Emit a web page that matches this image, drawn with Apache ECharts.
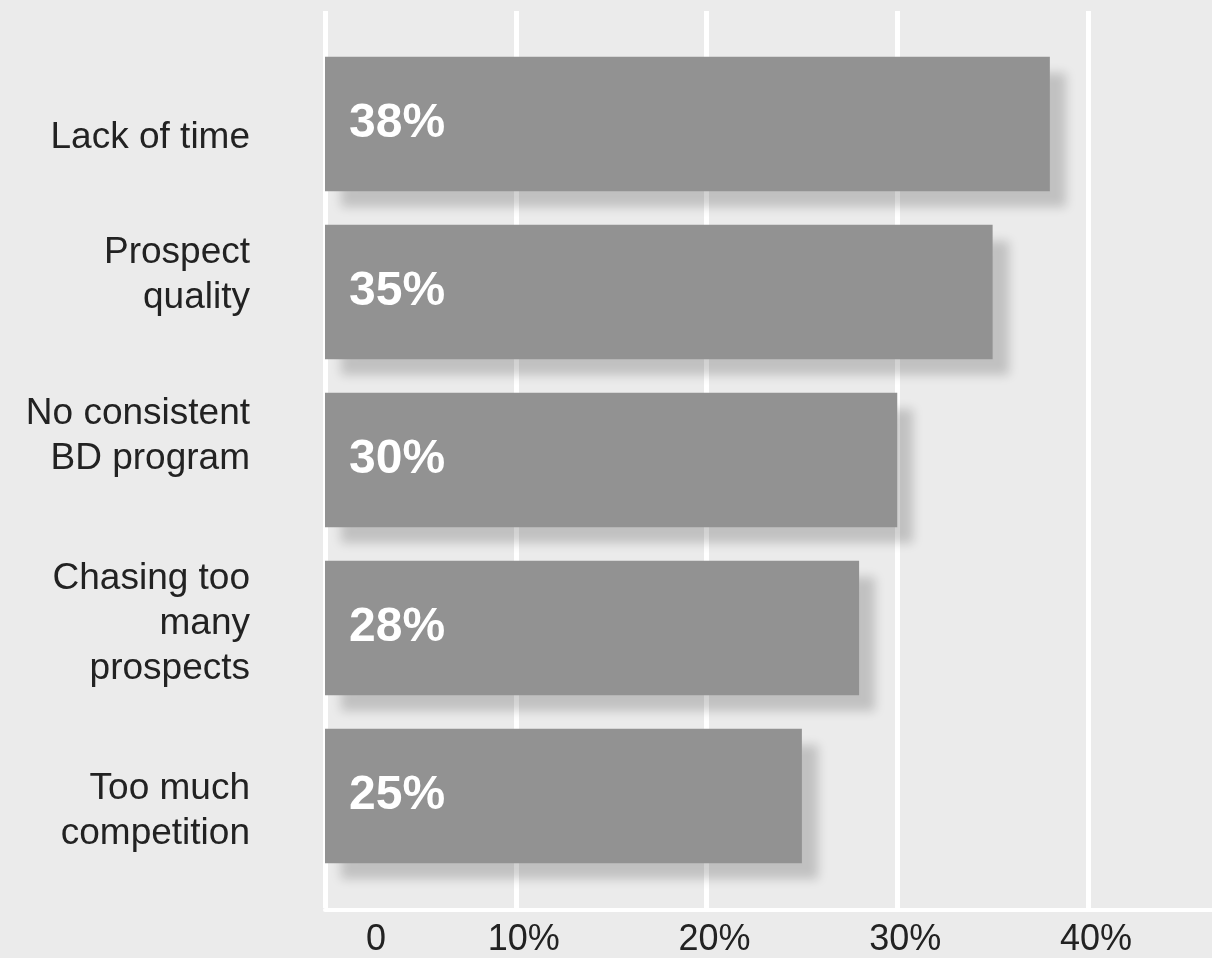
<!DOCTYPE html>
<html>
<head>
<meta charset="utf-8">
<script src="https://cdn.jsdelivr.net/npm/echarts@6/dist/echarts.min.js"></script>
<style>
  html, body { margin: 0; padding: 0; background: #ebebeb; }
  #chart { width: 1212px; height: 958px; }
</style>
</head>
<body>
<div id="chart"></div>
<script>
// Main obstacles to business development (share of respondents)
const categories = [
  'Lack of time',
  'Prospect\nquality',
  'No consistent\nBD program',
  'Chasing too\nmany\nprospects',
  'Too much\ncompetition'
];
const shares = [38, 35, 30, 28, 25];
const tickValues = [0, 10, 20, 30, 40];
const tickLabels = ['0', '10%', '20%', '30%', '40%'];

const FONT = "'Liberation Sans', 'Helvetica Neue', Arial, sans-serif";
const TEXT = '#222222';

// vertical nudge (px) of each category label relative to its bar centre
const labelNudge = [14, -17, -24, -4, 15];

// rich styles: 't' for the label text, 'g<i>' for a spacer line that shifts label i
const categoryRich = {
  t: { fontFamily: FONT, fontSize: 37, lineHeight: 45, color: TEXT, align: 'right' }
};
labelNudge.forEach(function (s, i) {
  categoryRich['g' + i] = { fontSize: 1, lineHeight: Math.max(1, 2 * Math.abs(s)), align: 'right' };
});

function categoryLabel(value, index) {
  const lines = value.split('\n').map(function (l) { return '{t|' + l + '}'; });
  const s = labelNudge[index];
  const spacer = '{g' + index + '| }';
  if (s > 0) lines.unshift(spacer);
  else if (s < 0) lines.push(spacer);
  return lines.join('\n');
}

const chart = echarts.init(document.getElementById('chart'), null, { renderer: 'canvas' });

chart.setOption({
  backgroundColor: '#ebebeb',
  animation: false,
  grid: [
    // gridlines and tick labels
    { left: 325, right: 124, top: 11, bottom: 48 },
    // bars
    { left: 325, right: 124, top: 40, bottom: 78 },
    // baseline running to the right edge
    { left: 325, right: 0, top: 11, bottom: 48 }
  ],
  xAxis: [
    {
      gridIndex: 0,
      type: 'value',
      min: 0,
      max: 40,
      interval: 10,
      axisLine: { show: false },
      axisTick: { show: false },
      splitLine: { show: true, lineStyle: { color: '#ffffff', width: 5 } },
      axisLabel: {
        show: true,
        margin: 14,
        formatter: function (v) {
          const i = tickValues.indexOf(v);
          if (i < 0) return '';
          return i === 0 ? '{z|' + tickLabels[i] + '}' : '{p|' + tickLabels[i] + '}';
        },
        rich: {
          z: { fontFamily: FONT, fontSize: 36, color: TEXT, padding: [0, 0, 0, 102] },
          p: { fontFamily: FONT, fontSize: 36, color: TEXT, padding: [0, 0, 0, 16] }
        }
      }
    },
    {
      gridIndex: 1,
      type: 'value',
      min: 0,
      max: 40,
      show: false,
      splitLine: { show: false }
    },
    {
      gridIndex: 2,
      type: 'value',
      min: 0,
      max: 1,
      axisLine: { show: true, lineStyle: { color: '#ffffff', width: 4 } },
      axisTick: { show: false },
      axisLabel: { show: false },
      splitLine: { show: false }
    }
  ],
  yAxis: [
    {
      gridIndex: 0,
      type: 'value',
      show: false,
      splitLine: { show: false }
    },
    {
      gridIndex: 1,
      type: 'category',
      inverse: true,
      data: categories,
      axisLine: { show: false },
      axisTick: { show: false },
      splitLine: { show: false },
      axisLabel: {
        margin: 75,
        fontFamily: FONT,
        fontSize: 37,
        lineHeight: 45,
        color: TEXT,
        align: 'right',
        formatter: categoryLabel,
        rich: categoryRich
      }
    },
    {
      gridIndex: 2,
      type: 'value',
      show: false,
      splitLine: { show: false }
    }
  ],
  series: [
    {
      type: 'bar',
      xAxisIndex: 1,
      yAxisIndex: 1,
      data: shares,
      barWidth: '80%',
      itemStyle: {
        color: '#929292',
        shadowColor: 'rgba(0, 0, 0, 0.18)',
        shadowBlur: 10,
        shadowOffsetX: 16,
        shadowOffsetY: 16
      },
      label: {
        show: true,
        position: 'insideLeft',
        distance: 24,
        formatter: '{c}%',
        fontFamily: FONT,
        fontSize: 48,
        fontWeight: 'bold',
        color: '#ffffff'
      }
    }
  ]
});
</script>
</body>
</html>
